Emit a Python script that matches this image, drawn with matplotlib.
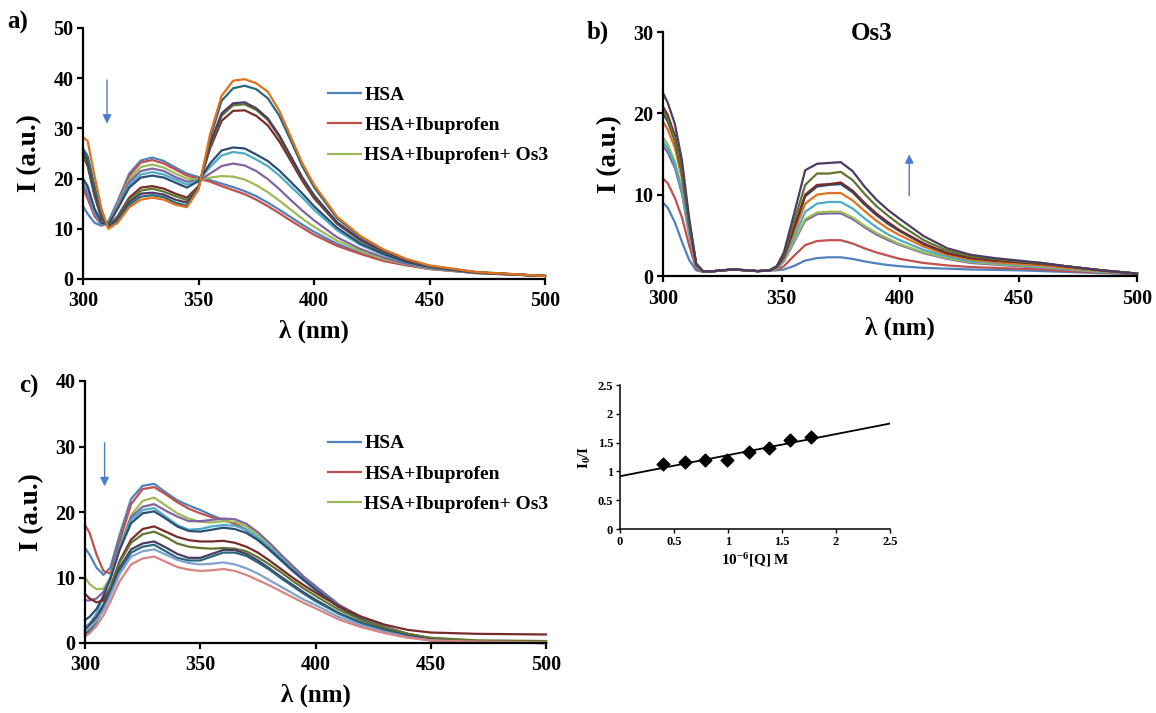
import matplotlib
matplotlib.use("Agg")
import matplotlib.pyplot as plt
import numpy as np

plt.rcParams['font.family'] = ['Liberation Serif', 'DejaVu Serif']
plt.rcParams['font.weight'] = 'bold'
plt.rcParams['mathtext.fontset'] = 'custom'
plt.rcParams['mathtext.rm'] = 'Liberation Serif:bold'
plt.rcParams['mathtext.it'] = 'Liberation Serif:bold'
plt.rcParams['mathtext.bf'] = 'Liberation Serif:bold'

# ---- colours (office-style series palette)
C = {
    'blue': '#4F81BD', 'red': '#C0504D', 'green': '#9BBB59', 'purple': '#8064A2',
    'aqua': '#4BACC6', 'orange': '#E2711D', 'dblue': '#2C4D75', 'dred': '#772C2A',
    'dgreen': '#5F7530', 'dpurple': '#4D3B62', 'daqua': '#276A7C',
    'lblue': '#7FA3CF', 'lred': '#D98480',
}
legend_labels = ['HSA', 'HSA+Ibuprofen', 'HSA+Ibuprofen+ Os3']

# ---- panel a : HSA + ibuprofen + Os3 (tryptophan / site II)
wl_a = [300, 302, 305, 308, 311, 315, 320, 325, 330, 335, 340, 345, 350, 355, 360,
        365, 370, 375, 380, 385, 390, 395, 400, 410, 420, 430, 440, 450, 470, 500]
a_blue = [14.5, 13.0, 11.2, 10.6, 11.5, 15.5, 21.0, 23.6, 24.2, 23.5, 22.2, 21.0, 20.3, 19.7, 19.0,
          18.3, 17.5, 16.5, 15.2, 13.8, 12.3, 10.8, 9.4, 7.0, 5.2, 3.8, 2.8, 2.0, 1.2, 0.6]
a_red = [18.0, 16.0, 12.5, 10.8, 11.0, 15.0, 20.5, 23.2, 23.7, 23.0, 21.8, 20.6, 20.0, 19.4, 18.5,
         17.7, 16.9, 15.8, 14.5, 13.1, 11.6, 10.2, 8.8, 6.6, 5.0, 3.6, 2.7, 2.0, 1.2, 0.6]
a_green = [19.0, 17.0, 13.0, 10.9, 11.0, 14.8, 19.8, 22.3, 22.8, 22.2, 21.0, 20.0, 19.8, 20.2, 20.5,
           20.4, 19.8, 18.7, 17.3, 15.6, 13.8, 12.0, 10.4, 7.6, 5.6, 4.0, 2.9, 2.1, 1.2, 0.6]
a_purple = [18.5, 16.8, 13.0, 10.9, 11.0, 14.5, 19.3, 21.5, 22.0, 21.5, 20.3, 19.4, 19.6, 21.0, 22.5,
            23.0, 22.6, 21.5, 19.9, 17.9, 15.7, 13.6, 11.7, 8.3, 6.0, 4.3, 3.0, 2.2, 1.2, 0.6]
a_aqua = [19.5, 17.8, 13.5, 11.0, 10.9, 14.2, 18.7, 20.8, 21.3, 20.8, 19.8, 18.8, 19.6, 22.3, 24.6,
          25.3, 25.0, 23.8, 22.5, 20.6, 18.4, 16.2, 13.8, 9.7, 6.8, 4.8, 3.3, 2.3, 1.3, 0.6]
a_dblue = [20.0, 18.5, 14.0, 11.2, 10.8, 14.0, 18.2, 20.2, 20.6, 20.2, 19.2, 18.2, 19.5, 23.0, 25.6,
           26.2, 26.0, 24.8, 23.5, 21.6, 19.3, 17.0, 14.5, 10.2, 7.1, 5.0, 3.4, 2.4, 1.3, 0.6]
a_dred = [24.5, 22.5, 16.5, 12.0, 10.5, 12.5, 16.2, 18.2, 18.5, 18.0, 17.0, 16.2, 18.5, 26.0, 31.5,
          33.5, 33.6, 32.5, 30.6, 27.4, 23.5, 19.5, 16.1, 11.0, 7.7, 5.4, 3.6, 2.5, 1.3, 0.6]
a_dgreen = [25.0, 23.0, 17.0, 12.3, 10.5, 12.3, 15.8, 17.6, 18.0, 17.4, 16.5, 15.7, 18.3, 26.5, 32.5,
            34.6, 34.8, 33.7, 31.7, 28.3, 24.2, 20.0, 16.5, 11.2, 7.8, 5.4, 3.7, 2.5, 1.3, 0.6]
a_dpurple = [25.5, 23.5, 17.5, 12.5, 10.4, 12.0, 15.3, 17.0, 17.2, 16.8, 15.8, 15.2, 18.2, 27.0, 33.0,
             35.0, 35.2, 34.0, 32.0, 28.6, 24.4, 20.2, 16.7, 11.3, 7.9, 5.5, 3.7, 2.5, 1.3, 0.6]
a_daqua = [26.0, 24.5, 18.5, 13.0, 10.2, 11.6, 14.8, 16.4, 16.7, 16.3, 15.2, 14.6, 18.0, 28.0, 35.5,
           38.0, 38.5, 37.8, 36.0, 32.5, 27.5, 22.4, 18.3, 12.1, 8.4, 5.8, 3.9, 2.6, 1.4, 0.6]
a_orange = [28.3, 27.5, 20.5, 14.0, 10.0, 11.2, 14.3, 15.8, 16.2, 15.8, 14.8, 14.3, 17.8, 28.8, 36.5,
            39.5, 39.8, 39.0, 37.3, 33.5, 28.3, 23.0, 18.8, 12.4, 8.6, 5.9, 4.0, 2.7, 1.4, 0.6]

# ---- panel b : Os3 alone
wl_b = [300, 302, 305, 308, 311, 314, 317, 320, 325, 330, 335, 340, 345, 348, 351, 355, 360,
        365, 370, 375, 380, 385, 390, 395, 400, 410, 420, 430, 440, 450, 460, 470, 485, 500]
b_blue = [9.0, 8.4, 6.6, 4.2, 2.0, 0.7, 0.5, 0.55, 0.7, 0.8, 0.7, 0.6, 0.65, 0.7, 0.8, 1.2, 1.9,
          2.2, 2.3, 2.3, 2.1, 1.8, 1.55, 1.35, 1.2, 1.0, 0.9, 0.8, 0.75, 0.7, 0.6, 0.5, 0.35, 0.2]
b_red = [12.0, 11.4, 9.6, 7.2, 3.8, 0.9, 0.5, 0.55, 0.7, 0.8, 0.7, 0.6, 0.7, 0.8, 1.2, 2.4, 3.8,
         4.3, 4.4, 4.4, 4.0, 3.4, 2.9, 2.5, 2.1, 1.6, 1.3, 1.1, 1.0, 0.9, 0.8, 0.6, 0.45, 0.25]
b_purple = [16.0, 15.2, 13.3, 10.1, 5.1, 1.1, 0.5, 0.55, 0.7, 0.8, 0.7, 0.6, 0.7, 0.9, 1.8, 4.0, 6.8,
            7.6, 7.7, 7.7, 7.0, 6.0, 5.1, 4.4, 3.8, 2.8, 2.1, 1.6, 1.4, 1.2, 1.0, 0.8, 0.5, 0.3]
b_green = [17.0, 16.2, 14.1, 10.7, 5.4, 1.2, 0.5, 0.55, 0.7, 0.8, 0.7, 0.6, 0.7, 0.9, 1.9, 4.2, 7.0,
           7.8, 7.9, 7.9, 7.2, 6.2, 5.3, 4.6, 3.9, 2.9, 2.2, 1.7, 1.5, 1.3, 1.1, 0.85, 0.5, 0.3]
b_aqua = [16.5, 15.7, 13.7, 10.4, 5.3, 1.2, 0.5, 0.55, 0.7, 0.8, 0.7, 0.6, 0.7, 1.0, 2.0, 4.6, 7.9,
          8.9, 9.1, 9.1, 8.3, 7.1, 6.0, 5.1, 4.4, 3.2, 2.4, 1.8, 1.6, 1.4, 1.2, 0.9, 0.55, 0.3]
b_orange = [19.0, 18.0, 15.8, 12.0, 6.1, 1.3, 0.5, 0.55, 0.7, 0.8, 0.7, 0.6, 0.7, 1.1, 2.2, 5.2, 8.9,
            10.0, 10.2, 10.2, 9.3, 8.0, 6.8, 5.8, 5.0, 3.6, 2.6, 2.0, 1.7, 1.5, 1.3, 1.0, 0.6, 0.3]
b_dblue = [20.0, 19.0, 16.6, 12.6, 6.4, 1.4, 0.5, 0.55, 0.7, 0.8, 0.7, 0.6, 0.7, 1.1, 2.4, 5.6, 9.8,
           11.0, 11.2, 11.3, 10.3, 8.8, 7.5, 6.4, 5.5, 3.9, 2.8, 2.2, 1.9, 1.7, 1.5, 1.2, 0.7, 0.3]
b_dred = [20.8, 19.8, 17.3, 13.1, 6.7, 1.5, 0.5, 0.55, 0.7, 0.8, 0.7, 0.6, 0.7, 1.1, 2.4, 5.7, 10.0,
          11.2, 11.3, 11.5, 10.5, 9.0, 7.7, 6.6, 5.6, 4.0, 2.8, 2.2, 1.9, 1.7, 1.5, 1.2, 0.7, 0.3]
b_dgreen = [20.3, 19.3, 16.8, 12.8, 6.5, 1.4, 0.5, 0.55, 0.7, 0.8, 0.7, 0.6, 0.7, 1.2, 2.7, 6.4, 11.2,
            12.6, 12.6, 12.8, 11.8, 10.1, 8.6, 7.4, 6.3, 4.4, 3.1, 2.4, 2.1, 1.8, 1.6, 1.2, 0.7, 0.3]
b_dpurple = [22.5, 21.3, 18.7, 14.2, 7.2, 1.5, 0.6, 0.55, 0.7, 0.8, 0.7, 0.6, 0.7, 1.2, 2.9, 7.3, 13.0,
             13.8, 13.9, 14.0, 12.9, 11.0, 9.4, 8.1, 7.0, 4.9, 3.4, 2.6, 2.2, 1.9, 1.6, 1.2, 0.7, 0.3]

# ---- panel c : HSA + ibuprofen + Os3 (tyrosine region)
wl_c = wl_a
c_blue = [14.5, 13.5, 11.5, 10.4, 11.5, 16.5, 22.0, 24.0, 24.3, 23.0, 21.8, 21.0, 20.3, 19.5, 18.8,
          18.2, 17.2, 15.8, 14.2, 12.6, 11.0, 9.5, 8.1, 5.5, 3.6, 2.2, 1.2, 0.5, 0.1, 0.0]
c_red = [18.0, 16.8, 13.5, 11.0, 10.6, 15.5, 21.2, 23.5, 23.8, 22.7, 21.5, 20.5, 19.8, 19.2, 18.8,
         18.2, 17.3, 16.0, 14.5, 12.8, 11.2, 9.7, 8.3, 5.7, 3.8, 2.4, 1.4, 0.7, 0.3, 0.2]
c_green = [10.0, 9.0, 8.2, 8.3, 10.0, 14.5, 19.5, 21.7, 22.2, 21.0, 19.8, 19.0, 18.5, 18.4, 18.6,
           18.5, 17.8, 16.5, 14.9, 13.2, 11.5, 9.9, 8.5, 5.8, 3.8, 2.4, 1.4, 0.7, 0.3, 0.2]
c_purple = [6.5, 6.5, 6.8, 7.8, 9.8, 14.5, 19.2, 20.8, 21.2, 20.2, 19.3, 18.6, 18.6, 18.8, 19.0,
            18.9, 18.2, 16.9, 15.3, 13.5, 11.8, 10.1, 8.7, 5.9, 3.9, 2.5, 1.4, 0.7, 0.3, 0.2]
c_aqua = [2.5, 3.0, 4.5, 7.0, 10.0, 14.5, 18.8, 20.3, 20.6, 19.3, 18.0, 17.3, 17.4, 17.8, 18.0,
          17.9, 17.3, 16.1, 14.6, 12.9, 11.2, 9.6, 8.2, 5.6, 3.6, 2.2, 1.2, 0.5, 0.1, 0.0]
c_dblue = [3.5, 4.0, 5.2, 7.2, 9.8, 14.2, 18.3, 19.8, 20.1, 19.0, 17.8, 17.1, 17.0, 17.3, 17.6,
           17.4, 16.8, 15.7, 14.3, 12.7, 11.1, 9.6, 8.2, 5.6, 3.6, 2.2, 1.2, 0.5, 0.1, 0.0]
c_dred = [7.5, 6.8, 6.2, 6.5, 8.5, 12.5, 15.8, 17.4, 17.8, 17.0, 16.2, 15.7, 15.5, 15.5, 15.6,
          15.3, 14.7, 13.8, 12.6, 11.3, 10.0, 8.8, 7.7, 5.6, 4.0, 2.8, 2.0, 1.6, 1.4, 1.3]
c_dgreen = [1.5, 2.2, 3.6, 5.8, 8.5, 12.3, 15.3, 16.6, 17.0, 16.2, 15.2, 14.7, 14.5, 14.4, 14.5,
            14.4, 14.0, 13.1, 12.0, 10.8, 9.5, 8.3, 7.2, 5.1, 3.5, 2.3, 1.4, 0.8, 0.4, 0.3]
c_dpurple = [2.0, 2.8, 4.0, 5.8, 8.0, 11.5, 14.3, 15.2, 15.5, 14.6, 13.6, 13.0, 13.0, 13.6, 14.2,
             14.2, 13.6, 12.6, 11.4, 10.1, 8.9, 7.7, 6.6, 4.6, 3.1, 2.0, 1.1, 0.5, 0.1, 0.0]
c_daqua = [1.2, 1.8, 3.2, 5.2, 7.6, 11.0, 13.8, 14.7, 15.0, 14.0, 13.0, 12.6, 12.6, 13.2, 13.8,
           13.8, 13.3, 12.3, 11.2, 9.9, 8.7, 7.5, 6.4, 4.5, 3.0, 1.9, 1.0, 0.4, 0.1, 0.0]
c_lblue = [1.8, 2.3, 3.4, 5.0, 7.2, 10.5, 13.2, 14.0, 14.3, 13.5, 12.7, 12.2, 12.0, 12.1, 12.3,
           12.0, 11.4, 10.6, 9.6, 8.6, 7.6, 6.6, 5.8, 4.0, 2.7, 1.7, 0.9, 0.4, 0.1, 0.0]
c_lred = [1.0, 1.5, 2.6, 4.2, 6.3, 9.4, 12.0, 12.9, 13.2, 12.4, 11.6, 11.2, 11.0, 11.1, 11.3,
          11.0, 10.4, 9.6, 8.8, 7.9, 7.0, 6.1, 5.3, 3.6, 2.4, 1.5, 0.8, 0.4, 0.2, 0.1]

# ---- panel d : Stern-Volmer plot
q_conc = [0.40, 0.60, 0.79, 0.99, 1.19, 1.38, 1.57, 1.77]
i0_over_i = [1.13, 1.16, 1.20, 1.19, 1.34, 1.40, 1.55, 1.60]
fit_intercept = 0.916
fit_slope = 0.366
fit_range = [0, 2.5]

W, H = 1156, 713
fig = plt.figure(figsize=(W / 100, H / 100), dpi=100)


def px_axes(l, t, r, b):
    return fig.add_axes([l / W, 1 - b / H, (r - l) / W, (b - t) / H])


def style(ax, ymax, ystep):
    ax.set_xlim(300, 500)
    ax.set_ylim(0, ymax)
    ax.set_xticks([300, 350, 400, 450, 500])
    ax.set_yticks(np.arange(0, ymax + 0.1, ystep))
    for s in ['top', 'right']:
        ax.spines[s].set_visible(False)
    for s in ['left', 'bottom']:
        ax.spines[s].set_linewidth(1.6)
    ax.tick_params(direction='out', length=4, width=1.6, labelsize=14.5)
    ax.tick_params(axis='x', pad=5)
    ax.tick_params(axis='y', pad=3)
    for lab in ax.get_xticklabels() + ax.get_yticklabels():
        lab.set_fontweight('bold')
    ax.set_xlabel('λ (nm)', fontsize=18, fontweight='bold', labelpad=6)
    ax.set_ylabel('I (a.u.)', fontsize=19.5, fontweight='bold', labelpad=8)


def draw(ax, wl, series):
    lines = []
    for name, vals in series:
        ln, = ax.plot(wl, vals, color=C[name], lw=1.6, clip_on=False)
        lines.append(ln)
    return lines


def arrow(ax, x, y0, y1):
    ax.annotate('', xy=(x, y1), xytext=(x, y0),
                arrowprops=dict(arrowstyle='-|>', color='#4A7BD0', lw=1.0, mutation_scale=13))


leg_kw = dict(loc='upper left', frameon=False, prop={'weight': 'bold', 'size': 14},
              handlelength=1.7, handletextpad=0.15, labelspacing=0.65,
              borderaxespad=0, borderpad=0)

# a
ax_a = px_axes(83, 28, 545, 279)
series_a = [('blue', a_blue), ('red', a_red), ('green', a_green), ('purple', a_purple),
            ('aqua', a_aqua), ('dblue', a_dblue), ('dred', a_dred), ('dgreen', a_dgreen),
            ('dpurple', a_dpurple), ('daqua', a_daqua), ('orange', a_orange)]
la = draw(ax_a, wl_a, series_a)
style(ax_a, 50, 10)
ax_a.legend(la[:3], legend_labels, bbox_to_anchor=(0.531, 0.768), **leg_kw)
arrow(ax_a, 310.4, 40.2, 30.4)
fig.text(7 / W, 1 - 22 / H, 'a)', fontsize=18, fontweight='bold', va='center')

# b
ax_b = px_axes(663, 32, 1137, 276)
series_b = [('blue', b_blue), ('red', b_red), ('purple', b_purple), ('green', b_green),
            ('aqua', b_aqua), ('orange', b_orange), ('dblue', b_dblue), ('dred', b_dred),
            ('dgreen', b_dgreen), ('dpurple', b_dpurple)]
draw(ax_b, wl_b, series_b)
style(ax_b, 30, 10)
fig.text(872 / W, 1 - 34 / H, 'Os3', ha='center', va='center', fontsize=18, fontweight='bold')
arrow(ax_b, 403.9, 9.5, 15.3)
fig.text(587 / W, 1 - 32 / H, 'b)', fontsize=18, fontweight='bold', va='center')

# c
ax_c = px_axes(85, 381, 546, 643)
series_c = [('blue', c_blue), ('red', c_red), ('green', c_green), ('purple', c_purple),
            ('aqua', c_aqua), ('dblue', c_dblue), ('dred', c_dred), ('dgreen', c_dgreen),
            ('dpurple', c_dpurple), ('daqua', c_daqua), ('lblue', c_lblue), ('lred', c_lred)]
lc = draw(ax_c, wl_c, series_c)
style(ax_c, 40, 10)
ax_c.legend(lc[:3], legend_labels, bbox_to_anchor=(0.528, 0.795), **leg_kw)
arrow(ax_c, 308.5, 31.0, 23.5)
fig.text(19 / W, 1 - 386 / H, 'c)', fontsize=18, fontweight='bold', va='center')

# d
ax_d = px_axes(620, 385, 890, 529)
ax_d.scatter(q_conc, i0_over_i, marker='D', s=42, color='black', zorder=3)
fx = np.array(fit_range)
ax_d.plot(fx, fit_intercept + fit_slope * fx, color='black', lw=1.3)
ax_d.set_xlim(0, 2.5)
ax_d.set_ylim(0, 2.5)
ax_d.set_xticks([0, 0.5, 1, 1.5, 2, 2.5])
ax_d.set_xticklabels(['0', '0.5', '1', '1.5', '2', '2.5'])
ax_d.set_yticks([0, 0.5, 1, 1.5, 2, 2.5])
ax_d.set_yticklabels(['0', '0.5', '1', '1.5', '2', '2.5'])
for s in ['top', 'right']:
    ax_d.spines[s].set_visible(False)
for s in ['left', 'bottom']:
    ax_d.spines[s].set_linewidth(1.1)
ax_d.tick_params(direction='out', length=3, width=1.0, labelsize=9, pad=2)
ax_d.set_xlabel('10$^{-6}$[Q] M', fontsize=11, fontweight='bold', labelpad=2)
ax_d.set_ylabel('I$_0$/I', fontsize=11, fontweight='bold', labelpad=3)

fig.savefig('out.png', dpi=100)
